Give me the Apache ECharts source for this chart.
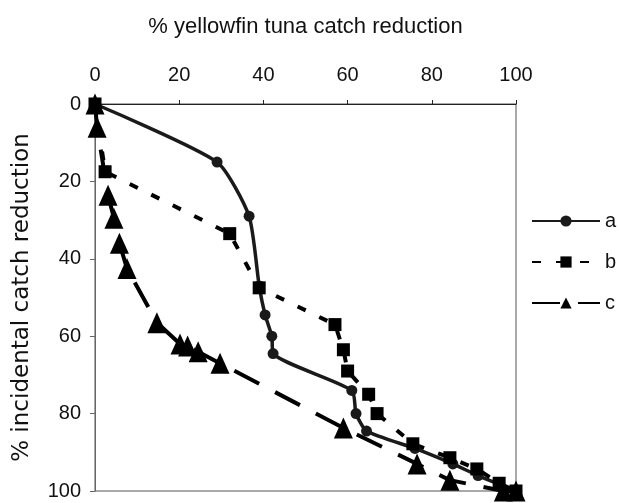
<!DOCTYPE html>
<html>
<head>
<meta charset="utf-8">
<script src="https://cdn.jsdelivr.net/npm/echarts@6/dist/echarts.min.js"></script>
<style>
  html, body { margin: 0; padding: 0; background: #fff; }
  #chart { width: 619px; height: 503px; }
</style>
</head>
<body>
<div id="chart"></div>
<script>
// [x = % yellowfin reduction, y = % incidental reduction]
const seriesNames = ['a', 'b', 'c'];
const dataA = [[0, 0], [29, 15], [36.6, 29], [39, 47], [40.4, 54.5], [42, 60], [42.3, 64.5],
  [61, 74], [62, 80], [64.5, 84.5], [76, 89], [85, 93], [91, 96], [100, 100]];
const dataB = [[0, 0], [2.4, 17.5], [32, 33.5], [39, 47.5], [57, 57], [59, 63.5], [60, 69],
  [65, 75], [67, 80], [75.5, 87.8], [84.3, 91.4], [90.7, 94.3], [96, 98], [100, 100]];
const dataC = [[0, 0], [0.5, 6], [3.1, 23.6], [4.5, 29.5], [5.8, 36], [7.6, 42.5], [14.7, 56.5],
  [20.2, 62], [22, 62.5], [24.5, 64], [29.7, 67], [59, 83.7], [76.5, 93], [84.3, 97.2],
  [97, 100], [100, 100]];
const xTicks = [0, 20, 40, 60, 80, 100];
const yTicks = [0, 20, 40, 60, 80, 100];

const chart = echarts.init(document.getElementById('chart'));
const fontFam = 'Arial, "Liberation Sans", sans-serif';

chart.setOption({
  backgroundColor: '#fff',
  animation: false,
  textStyle: { fontFamily: fontFam, color: '#111' },
  grid: { left: 95, right: 103, top: 104, bottom: 12, show: true, borderColor: '#555', borderWidth: 1 },
  legend: {
    orient: 'vertical', left: 531, top: 211, itemGap: 21, padding: 0,
    itemWidth: 68, itemHeight: 14,
    textStyle: { fontSize: 20, color: '#111', fontFamily: fontFam },
    data: seriesNames
  },
  xAxis: {
    type: 'value', position: 'top', min: xTicks[0], max: xTicks[xTicks.length - 1], interval: 20,
    name: '% yellowfin tuna catch reduction', nameLocation: 'middle', nameGap: 66,
    nameTextStyle: { fontSize: 22, color: '#111' },
    axisLine: { show: true, lineStyle: { color: '#222', width: 1 } },
    axisTick: { show: true, length: 4, lineStyle: { color: '#222' } },
    axisLabel: { fontSize: 20, color: '#111', margin: 19 },
    splitLine: { show: false }
  },
  yAxis: {
    type: 'value', inverse: true, min: yTicks[0], max: yTicks[yTicks.length - 1], interval: 20,
    name: '% incidental catch reduction', nameLocation: 'middle', nameGap: 61, nameRotate: 90,
    nameTextStyle: { fontSize: 23, color: '#111', fontFamily: '"DejaVu Sans", sans-serif' },
    axisLine: { show: true, lineStyle: { color: '#666', width: 1 } },
    axisTick: { show: true, length: 5, lineStyle: { color: '#666' } },
    axisLabel: { fontSize: 20, color: '#111', margin: 14 },
    splitLine: { show: false }
  },
  series: [
    {
      name: 'a', type: 'line', data: dataA, smooth: 0.2, clip: false,
      symbol: 'circle', symbolSize: 11,
      itemStyle: { color: '#1a1a1a' },
      lineStyle: { color: '#1a1a1a', width: 3.5, type: 'solid' }
    },
    {
      name: 'b', type: 'line', data: dataB, clip: false,
      symbol: 'rect', symbolSize: 13,
      itemStyle: { color: '#000' },
      lineStyle: { color: '#000', width: 4, type: [9, 15] }
    },
    {
      name: 'c', type: 'line', data: dataC, clip: false,
      symbol: 'triangle', symbolSize: [19, 21],
      itemStyle: { color: '#000' },
      lineStyle: { color: '#000', width: 4, type: [28, 18] }
    }
  ]
});
</script>
</body>
</html>
